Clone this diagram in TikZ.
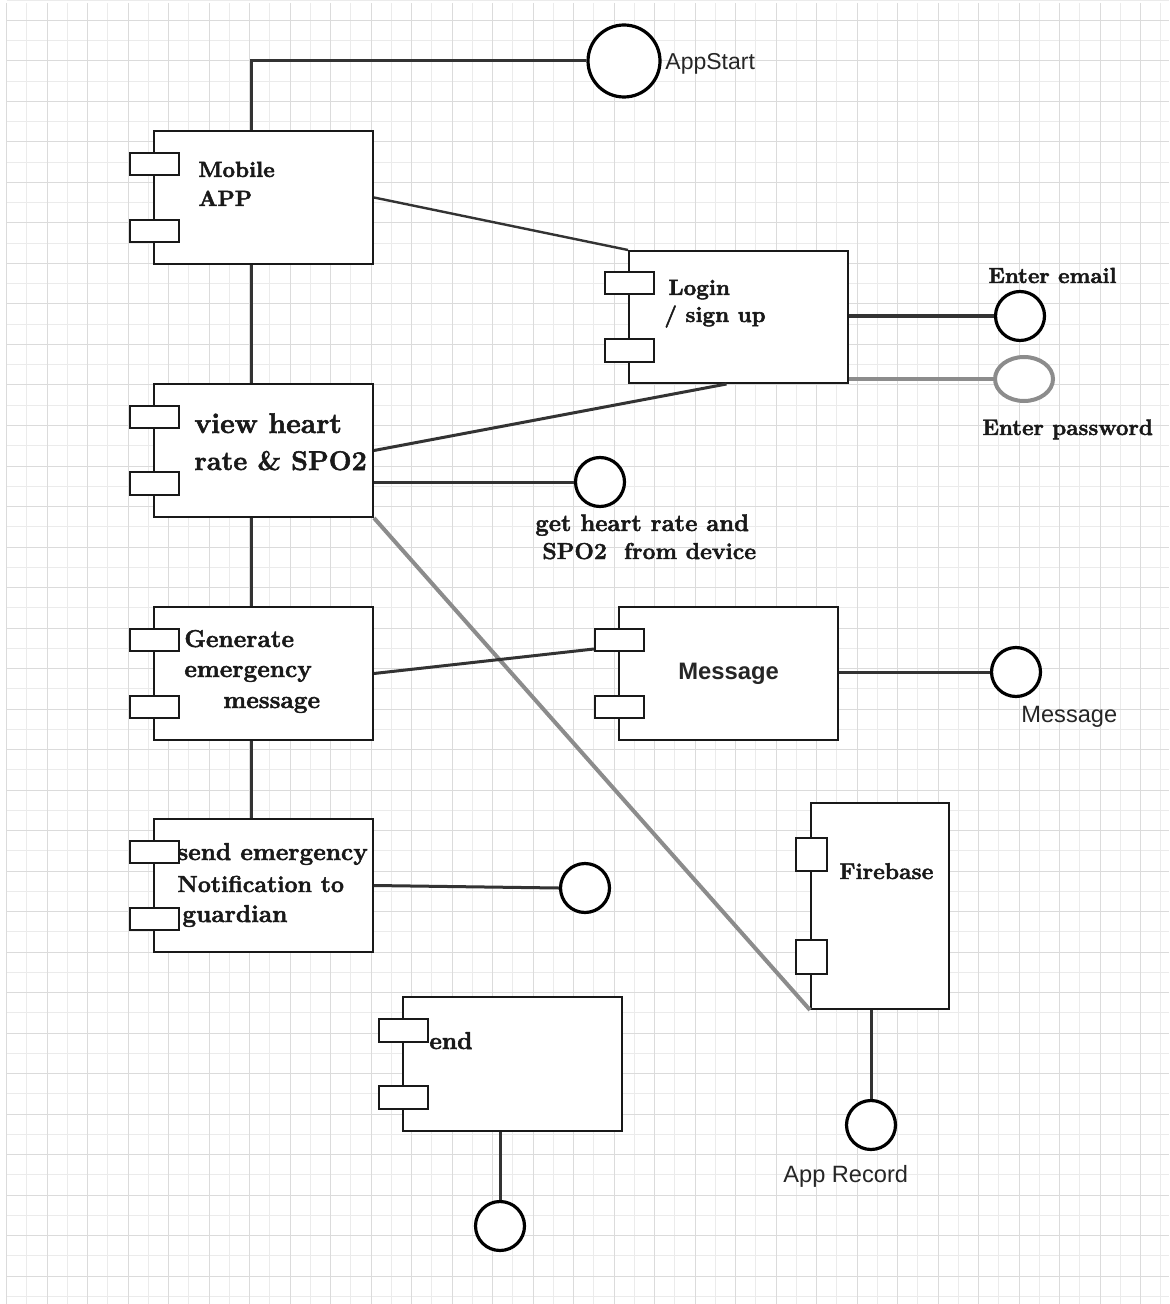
\documentclass[tikz,border=0pt]{standalone}
\usepackage{fontspec}
\setmainfont{Latin Modern Roman}[BoldFeatures={FakeBold=2}]
\setsansfont{Liberation Sans}
\usetikzlibrary{shapes.geometric,calc}
\begin{document}
\begin{tikzpicture}[x=0.5pt,y=-0.5pt,
  comp/.style={draw=black!90,line width=1pt,fill=white,rectangle,inner sep=0pt,anchor=north west,minimum width=109.5pt,minimum height=66.5pt},
  port/.style={draw=black!90,line width=1pt,fill=white,rectangle,inner sep=0pt,anchor=north west,minimum width=24.5pt,minimum height=11pt},
  conn/.style={draw=black!80,line width=1.5pt},
  grayconn/.style={draw=black!45,line width=2pt},
  iface/.style={circle,draw=black,line width=1.6pt,fill=white,inner sep=0pt,minimum size=24.5pt},
  lbl/.style={anchor=base west,inner sep=0pt,text=black!90,font=\bfseries\fontsize{12.2}{14}\selectfont},
  slbl/.style={anchor=base west,inner sep=0pt,text=black!85,font=\sffamily\fontsize{11.8}{14}\selectfont},
  gridmajor/.style={draw=black!14,line width=0.5pt},
  gridminor/.style={draw=black!8,line width=0.5pt}
]
\useasboundingbox (0,0) rectangle (1169,1304);
\fill[white] (0,0) rectangle (1169,1304);
% grid
\foreach \i in {0,...,28} {\draw[gridminor] (26.75+40.5*\i,3) -- (26.75+40.5*\i,1304);}
\foreach \j in {0,...,32} {\draw[gridminor] (6.5,0.25+40.5*\j) -- (1169,0.25+40.5*\j);}
\foreach \i in {0,...,28} {\draw[gridmajor] (6.5+40.5*\i,3) -- (6.5+40.5*\i,1304);}
\foreach \j in {0,...,31} {\draw[gridmajor] (6.5,20.5+40.5*\j) -- (1169,20.5+40.5*\j);}

\coordinate (colx) at (251,0);

% components
\node[comp] (mobile) at (153,130) {};
\node[comp,minimum height=66pt] (login) at (628,250) {};
\node[comp] (view) at (153,383) {};
\node[comp] (gen) at (153,606) {};
\node[comp] (msg) at (618,606) {};
\node[comp] (send) at (153,818) {};
\node[comp,minimum width=69pt,minimum height=103pt] (fire) at (810,802) {};
\node[comp,minimum height=67pt] (endbox) at (402,996) {};

% ports
\node[port] (mp1) at (129,152) {};
\node[port] (mp2) at (129,219) {};
\node[port] (lp1) at (604,271) {};
\node[port,minimum height=11.5pt] (lp2) at (604,338) {};
\node[port] (vp1) at (129,405) {};
\node[port,minimum height=11.5pt] (vp2) at (129,471) {};
\node[port] (gp1) at (129,628) {};
\node[port] (gp2) at (129,695) {};
\node[port] (msp1) at (594,628) {};
\node[port] (msp2) at (594,695) {};
\node[port] (sp1) at (129,840) {};
\node[port] (sp2) at (129,907) {};
\node[port,minimum width=15.5pt,minimum height=16.5pt] (fp1) at (795,837) {};
\node[port,minimum width=15.5pt,minimum height=17pt] (fp2) at (795,939) {};
\node[port,minimum height=11.5pt] (ep1) at (378,1018) {};
\node[port,minimum height=11.5pt] (ep2) at (378,1085) {};

% interfaces
\node[iface,minimum size=36pt] (appstart) at (624,61) {};
\node[iface] (email) at (1020,316) {};
\node[ellipse,draw=black!45,line width=2pt,fill=white,inner sep=0pt,minimum width=29pt,minimum height=22pt] (pw) at (1024,379) {};
\node[iface] (gethr) at (600,482) {};
\node[iface] (msgc) at (1016,672) {};
\node[iface] (notif) at (585,888) {};
\node[iface] (firec) at (871,1125) {};
\node[iface] (endc) at (500,1226) {};

% connectors
\draw[conn] (mobile.north -| colx) |- (appstart.west);
\draw[conn,line width=1.2pt] (mobile.east) -- (login.north west);
\draw[conn] (mobile.south -| colx) -- (view.north -| colx);
\draw[conn,line width=1.8pt] (email.west -| login.east) -- (email.west);
\draw[grayconn] (pw.west -| login.east) -- (pw.west);
\draw[conn] (view.east) -- ($(login.south)+(-12,0)$);
\draw[conn] (gethr.west -| view.east) -- (gethr.west);
\draw[grayconn] (view.south east) -- (fire.south west);
\draw[conn] (view.south -| colx) -- (gen.north -| colx);
\draw[conn] (gen.east) -- ($(msp1.south west)+(0,-3)$);
\draw[conn] (msgc.west -| msg.east) -- (msgc.west);
\draw[conn] (gen.south -| colx) -- (send.north -| colx);
\draw[conn] (send.east) -- (notif.west);
\draw[conn] (firec.north |- fire.south) -- (firec.north);
\draw[conn] (endc.north |- endbox.south) -- (endc.north);

% labels
\node[lbl,font=\bfseries\fontsize{11}{13}\selectfont] (mobT1) at (198,177) {Mobile};
\node[lbl,font=\bfseries\fontsize{11}{13}\selectfont] (mobT2) at (198,206) {APP};
\node[lbl,font=\bfseries\fontsize{11}{13}\selectfont] (logT1) at (668,295) {Login};
\node[lbl,font=\bfseries\fontsize{11}{13}\selectfont] (logT2) at (664,322) {/ sign up};
\node[lbl,font=\bfseries\fontsize{10.9}{13}\selectfont] (emailT) at (988,283) {Enter email};
\node[lbl,font=\bfseries\fontsize{11.2}{13}\selectfont] (pwT) at (982,435) {Enter password};
\node[lbl,font=\bfseries\fontsize{14.2}{16}\selectfont] (viewT1) at (194,433) {view heart};
\node[lbl,font=\bfseries\fontsize{13.5}{16}\selectfont] (viewT2) at (194,470) {rate \& SPO2};
\node[lbl,font=\bfseries\fontsize{11.9}{14}\selectfont] (hrT1) at (535,531) {get heart rate and};
\node[lbl,font=\bfseries\fontsize{11.5}{14}\selectfont] (hrT2) at (542,559) {SPO2\ \ from device};
\node[lbl] (genT1) at (184,647) {Generate};
\node[lbl] (genT2) at (184,677) {emergency};
\node[lbl] (genT3) at (223,708) {message};
\node[slbl,font=\sffamily\bfseries\fontsize{11.9}{14}\selectfont] (msgT) at (678,679) {Message};
\node[slbl] (msgcT) at (1021,722) {Message};
\node[lbl] (sendT1) at (177,860) {send emergency};
\node[lbl,font=\bfseries\fontsize{11.6}{14}\selectfont] (sendT2) at (177,892) {Notification to};
\node[lbl] (sendT3) at (182,922) {guardian};
\node[lbl,font=\bfseries\fontsize{11.4}{14}\selectfont] (fireT) at (839,879) {Firebase};
\node[lbl] (endT) at (429,1049) {end};
\node[slbl,font=\sffamily\fontsize{11.5}{14}\selectfont] (appT) at (665,70) {AppStart};
\node[slbl] (recT) at (783,1182) {App Record};
\end{tikzpicture}
\end{document}
